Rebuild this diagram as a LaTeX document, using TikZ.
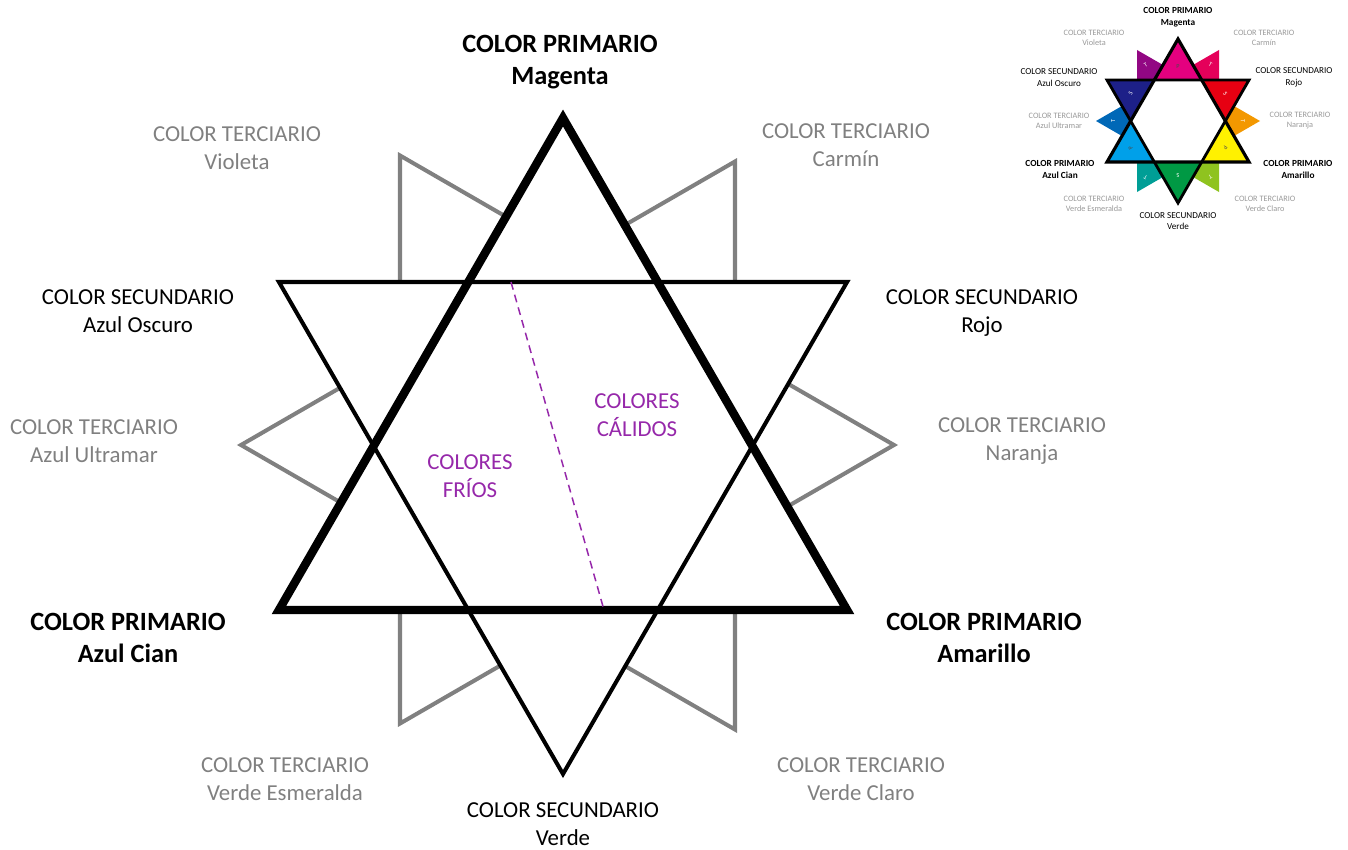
\documentclass[tikz,border=0pt]{standalone}
\usepackage{fontspec}
\setmainfont{Carlito}
\usetikzlibrary{calc}
\usepackage{xcolor}

\definecolor{gristerc}{RGB}{128,128,128}
\definecolor{moradozona}{RGB}{150,40,170}
\definecolor{cMagenta}{RGB}{228,0,127}
\definecolor{cVioleta}{RGB}{146,7,131}
\definecolor{cCarmin}{RGB}{229,0,90}
\definecolor{cAzulOsc}{RGB}{29,32,136}
\definecolor{cRojo}{RGB}{230,0,18}
\definecolor{cUltramar}{RGB}{0,104,183}
\definecolor{cNaranja}{RGB}{243,152,0}
\definecolor{cCian}{RGB}{0,160,233}
\definecolor{cAmarillo}{RGB}{255,241,0}
\definecolor{cEsmeralda}{RGB}{0,158,150}
\definecolor{cVerde}{RGB}{0,153,68}
\definecolor{cVerdeCl}{RGB}{143,195,31}

\begin{document}
\begin{tikzpicture}[x=0.02cm, y=0.02cm,
    prim/.style={align=center, font=\fontsize{15}{18}\selectfont\bfseries},
    secu/.style={align=center, font=\fontsize{13}{16}\selectfont},
    terc/.style={secu, text=gristerc},
    zona/.style={secu, text=moradozona},
    mprim/.style={align=center, font=\fontsize{5.3}{6.8}\selectfont\bfseries},
    msecu/.style={align=center, font=\fontsize{5.2}{6.6}\selectfont},
    mterc/.style={align=center, font=\fontsize{4.7}{5.7}\selectfont, text=black!40},
    letra/.style={font=\fontsize{3.5}{3.5}\selectfont, inner sep=0pt}]
  \useasboundingbox (-563,-403) rectangle (785,446);
  \def\R{328}

  % terciarios
  \foreach \a/\x/\y in {0/331/1, 60/172/284.5, 120/-163/290.5,
      180/-322/1, 240/-163/-277.5, 300/172/-283.5}{
    \coordinate (t\a) at (\x,\y);
    \draw[gristerc, line width=2.3pt]
      ($(t\a)+(\a+150:150)$) -- (t\a) -- ($(t\a)+(\a-150:150)$);
  }

  % estrella
  \foreach \a/\n in {30/s1,150/s2,270/s3} \coordinate (\n) at (\a:\R);
  \foreach \a/\n in {90/p1,210/p2,330/p3} \coordinate (\n) at (\a:\R);
  \fill[white] (s1) -- (s2) -- (s3) -- cycle;
  \fill[white] (p1) -- (p2) -- (p3) -- cycle;
  \draw[line width=2.3pt] (s1) -- (s2) -- (s3) -- cycle;
  \draw[line width=4.8pt] (p1) -- (p2) -- (p3) -- cycle;

  % frios / calidos
  \coordinate (dA) at (-52,0.5*\R);
  \coordinate (dB) at (41,-0.5*\R);
  \draw[moradozona, line width=0.85pt, dash pattern=on 4.5pt off 3pt] (dA) -- (dB);
  \node[zona] (frios) at (-93,-30) {COLORES\\FRÍOS};
  \node[zona] (calidos) at (74,31) {COLORES\\CÁLIDOS};

  \node[prim] (lmag) at (-3,384) {COLOR PRIMARIO\\Magenta};
  \node[prim] (lcian) at (-435,-192) {COLOR PRIMARIO\\Azul Cian};
  \node[prim] (lama) at (421,-192) {COLOR PRIMARIO\\Amarillo};
  \node[secu] (losc) at (-425,135) {COLOR SECUNDARIO\\Azul Oscuro};
  \node[secu] (lrojo) at (419,133) {COLOR SECUNDARIO\\Rojo};
  \node[secu] (lverde) at (0,-378) {COLOR SECUNDARIO\\Verde};
  \node[terc] (lvio) at (-326,298) {COLOR TERCIARIO\\Violeta};
  \node[terc] (lcar) at (283,301) {COLOR TERCIARIO\\Carmín};
  \node[terc] (lult) at (-469,5) {COLOR TERCIARIO\\Azul Ultramar};
  \node[terc] (lnar) at (459,5) {COLOR TERCIARIO\\Naranja};
  \node[terc] (lesm) at (-278,-333) {COLOR TERCIARIO\\Verde Esmeralda};
  \node[terc] (lvcl) at (298,-333) {COLOR TERCIARIO\\Verde Claro};

  % miniatura en color
  \begin{scope}[shift={(615,325)}]
    \def\r{82}
    \foreach \a/\c in {0/cNaranja,60/cCarmin,120/cVioleta,180/cUltramar,240/cEsmeralda,300/cVerdeCl}{
      \fill[\c] (\a:\r) -- ($(\a:\r)+(\a+150:0.366*\r)$) -- (\a:0.577*\r)
        -- ($(\a:\r)+(\a-150:0.366*\r)$) -- cycle;
      \node[letra, text=white, rotate=\a-90] (mt\a) at (\a:0.79*\r) {T};
    }
    \foreach \a/\c/\l/\t in {90/cMagenta/P/black!70, 210/cCian/P/black!70, 330/cAmarillo/P/black!70,
        30/cRojo/S/white, 150/cAzulOsc/S/white, 270/cVerde/S/white}{
      \fill[\c] (\a:\r) -- (\a-30:0.577*\r) -- (\a+30:0.577*\r) -- cycle;
      \node[letra, text=\t, rotate=\a-90] (mp\a) at (\a:0.667*\r) {\l};
    }
    \draw[line width=1.6pt] (30:\r) -- (150:\r) -- (270:\r) -- cycle;
    \draw[line width=1.8pt] (90:\r) -- (210:\r) -- (330:\r) -- cycle;

    \node[mprim] (mmag) at (0,104) {COLOR PRIMARIO\\Magenta};
    \node[mprim] (mcian) at (-118,-48.5) {COLOR PRIMARIO\\Azul Cian};
    \node[mprim] (mama) at (120,-48.5) {COLOR PRIMARIO\\Amarillo};
    \node[msecu] (mosc) at (-119,43.5) {COLOR SECUNDARIO\\Azul Oscuro};
    \node[msecu] (mrojo) at (116,43.5) {COLOR SECUNDARIO\\Rojo};
    \node[msecu] (mverde) at (0,-100) {COLOR SECUNDARIO\\Verde};
    \node[mterc] (mvio) at (-84,83) {COLOR TERCIARIO\\Violeta};
    \node[mterc] (mcar) at (86,83) {COLOR TERCIARIO\\Carmín};
    \node[mterc] (mult) at (-119,0) {COLOR TERCIARIO\\Azul Ultramar};
    \node[mterc] (mnar) at (122,0) {COLOR TERCIARIO\\Naranja};
    \node[mterc] (mesm) at (-84,-83.3) {COLOR TERCIARIO\\Verde Esmeralda};
    \node[mterc] (mvcl) at (87,-83.3) {COLOR TERCIARIO\\Verde Claro};
  \end{scope}
\end{tikzpicture}
\end{document}
